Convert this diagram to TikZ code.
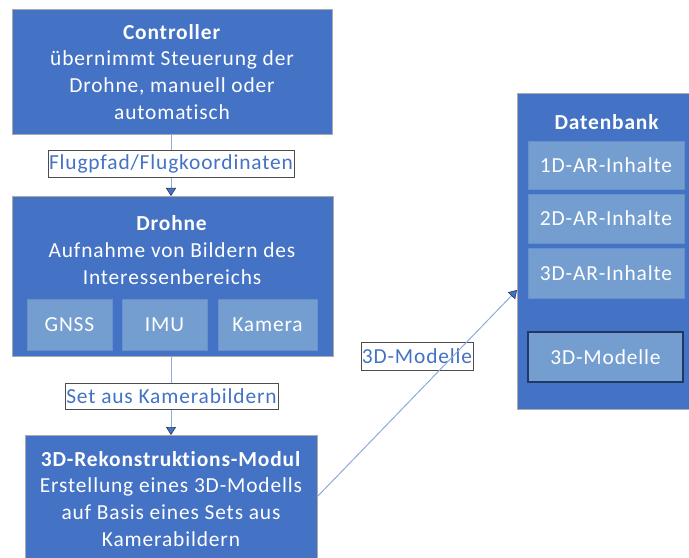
\documentclass[tikz,border=0pt]{standalone}
\usepackage{fontspec}
\setmainfont[LetterSpace=4,RawFeature={-liga;-clig;-calt;-dlig}]{Carlito}
\usetikzlibrary{arrows.meta}
\definecolor{mainblue}{RGB}{68,114,196}
\definecolor{subblue}{RGB}{116,158,207}
\definecolor{lineblue}{RGB}{143,170,220}
\definecolor{edgegray}{RGB}{170,170,170}
\definecolor{darkedge}{RGB}{31,56,100}
\begin{document}
\begin{tikzpicture}[x=1bp,y=-1bp,
  mainbox/.style={draw=edgegray, line width=0.8bp, fill=mainblue, inner sep=0pt, outer sep=0pt},
  subbox/.style={draw=subblue!70!mainblue, line width=0.8bp, fill=subblue, inner sep=0pt, outer sep=0pt, text=white, font=\fontsize{21.5}{26}\selectfont},
  txt/.style={text=white, align=center, inner sep=0pt, font=\fontsize{21.5}{27}\selectfont},
  lbl/.style={draw=black!70, line width=0.8bp, fill=white, text=mainblue, inner sep=0pt, outer sep=0pt, font=\fontsize{21.5}{26}\selectfont},
  conn/.style={draw=lineblue, line width=1bp, -{Triangle[width=10bp,length=8bp,fill=mainblue,color=darkedge,line width=0.6bp]}}]
\useasboundingbox (0,0) rectangle (689,558);
\clip (0,0) rectangle (689,558);
\fill[white] (0,0) rectangle (689,558);

% main boxes
\node[mainbox, minimum width=320bp, minimum height=125bp] (ctrl) at (172,71.5) {};
\node[txt] (ctrltxt) at (172,72) {\textbf{Controller}\\übernimmt Steuerung der\\Drohne, manuell oder\\automa\kern0pt tisch};

\node[mainbox, minimum width=321bp, minimum height=160bp] (drohne) at (172.5,276) {};
\node[txt] (drohnetxt) at (172,250) {\textbf{Drohne}\\Aufnahme von Bildern des\\Interessenbereichs};
\node[subbox, minimum width=85bp, minimum height=51bp] (gnss) at (69.5,324.5) {GNSS};
\node[subbox, minimum width=85bp, minimum height=51bp] (imu) at (164.5,324.5) {IMU};
\node[subbox, minimum width=99bp, minimum height=51bp] (kamera) at (267.5,324.5) {Kamera};

\node[mainbox, minimum width=292bp, minimum height=124bp] (rekon) at (171,497) {};
\node[txt] (rekontxt) at (171,499) {\textbf{3D-Rekonstruk\kern0pt tions-Modul}\\Erstellung eines 3D-Modells\\auf Basis eines Sets aus\\Kamerabildern};

\node[mainbox, minimum width=178bp, minimum height=316bp] (db) at (606,251) {};
\node[txt] (dbtxt) at (607,122) {\textbf{Datenbank}};
\node[subbox, minimum width=156bp, minimum height=48bp] (ar1) at (606,165) {1D-AR-Inhalte};
\node[subbox, minimum width=156bp, minimum height=49bp] (ar2) at (606,218.5) {2D-AR-Inhalte};
\node[subbox, minimum width=156bp, minimum height=50bp] (ar3) at (606,273) {3D-AR-Inhalte};
\node[subbox, draw=darkedge, line width=1.2bp, minimum width=155bp, minimum height=50bp] (modelle) at (605.5,357) {3D-Modelle};

% connectors
\draw[conn] (ctrl.south -| 171,0) -- (drohne.north -| 171,0);
\node[lbl, minimum width=246bp, minimum height=27bp] (l1) at (171,164) {Flugpfad/Flugkoordinaten};

\draw[conn] (drohne.south -| 171,0) -- (rekon.north -| 171,0);
\node[lbl, minimum width=213bp, minimum height=26bp] (l2) at (171.5,396) {Set aus Kamerabildern};

\node[lbl, fill=white, minimum width=112bp, minimum height=28bp] (l3) at (417,356) {3D-Modelle};
\draw[conn] (rekon.east) -- ([yshift=-39bp]db.west);
\end{tikzpicture}
\end{document}
